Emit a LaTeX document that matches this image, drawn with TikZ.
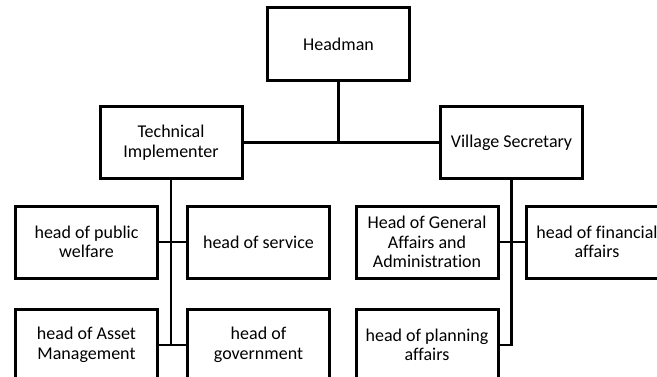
\documentclass[tikz,border=0pt]{standalone}
\usepackage{fontspec}
\setmainfont{Carlito}[Ligatures=NoCommon]
\usetikzlibrary{positioning}

\begin{document}
\begin{tikzpicture}[
        x=1pt, y=1pt,
        node distance=27pt,
        box/.style={rectangle, draw=black, line width=3pt, fill=white, minimum width=142pt, minimum height=72pt, align=center, font=\fontsize{18}{19.5}\selectfont, inner sep=1pt},
        link/.style={draw=black, line width=2.2pt}
    ]
        \useasboundingbox (0,0) rectangle (657,376);
        \clip (0,0) rectangle (657,376);

        \node[box] (headman) at (338.5,332) {Headman};
        \node[box] (tech) at (171,233.5) {Technical\\Implementer};
        \node[box] (secretary) at (511.5,233.5) {Village Secretary};

        \node[box] (welfare) at (86.5,134) {head of public\\welfare};
        \node[box, right=of welfare] (service) {head of service};
        \node[box, below=28pt of welfare] (asset) {head of Asset\\Management};
        \node[box, right=of asset] (government) {head of\\government};

        \node[box] (general) at (427,134) {Head of General\\Affairs and\\Administration};
        \node[box, right=25pt of general] (finance) {head of financial\\affairs};
        \node[box, below=28pt of general] (planning) {head of planning\\affairs};

        % connectors
        \draw[link] (headman.south) -- (headman.south |- tech.east);
        \draw[link] (tech.east) -- (secretary.west);
        \draw[link] (tech.south) -- (tech.south |- asset.east);
        \draw[link] (welfare.east) -- (service.west);
        \draw[link] (asset.east) -- (government.west);
        \draw[link] (secretary.south) -- (secretary.south |- planning.east) -- (planning.east);
        \draw[link] (general.east) -- (finance.west);
    \end{tikzpicture}
\end{document}
